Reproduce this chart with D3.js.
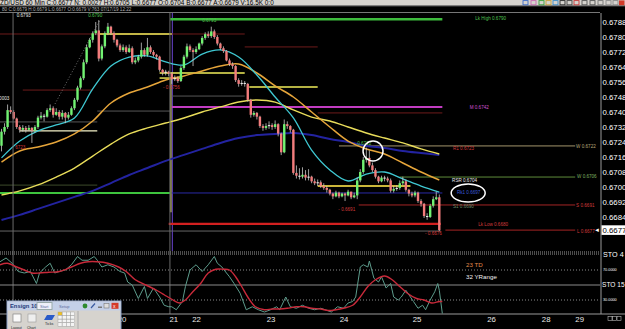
<!DOCTYPE html>
<html>
<head>
<meta charset="utf-8">
<title>NZD/USD 60 Min</title>
<script src="https://cdn.jsdelivr.net/npm/d3@7"></script>
<style>
  body { margin: 0; background: #000; overflow: hidden; }
  svg { display: block; font-family: "Liberation Sans", Arial, sans-serif; }
</style>
</head>
<body>
<svg id="chart" width="625" height="329"></svg>
<script>
// ---- data: prices are in pips (1 pip = 0.0001), x positions are bar numbers ----
const firstOpen = 6722;
const closes = [6729.5,6732,6741,6740,6736.5,6732,6730.5,6731.5,6730.5,6731.5,6730,6732,6737,6738,6737.5,6741,6742,6738.5,6740,6737.5,
  6739.5,6737,6738.5,6742,6746.5,6753,6758,6766.5,6774.5,6778.5,6782,6783.5,6768.5,6775,6782,6785.5,6782,6778.5,6775.5,6773,
  6774.5,6772,6774,6766.5,6767.5,6769.5,6773,6770.5,6774.5,6772,6770.5,6769.5,6762.5,6761,6761.5,6760.5,6757.5,6758,6756.5,6763.5,
  6769.5,6775,6773,6772,6773.5,6776.5,6779.5,6781.5,6780.5,6783,6780,6776.5,6774,6772.5,6767.5,6765.5,6764.5,6757,6755,6755.5,
  6755,6746.5,6738.5,6739.5,6737.5,6732.5,6731.5,6732.5,6733,6732,6733.5,6728.5,6718.5,6733.5,6732.5,6730.5,6707.5,6706,6705.5,6706.5,
  6705,6705.5,6703,6702,6702.5,6700.5,6699.5,6698.5,6696.5,6695,6697,6695,6696.5,6695.5,6697.5,6694.5,6695.5,6703.5,6708,6714.5,
  6715.5,6711.5,6709,6705.5,6703,6705,6704.5,6703.5,6698,6699,6699.5,6702,6703,6698.5,6696.5,6695.5,6697,6692.5,6691,6684.5,
  6684,6690,6693.5,6694.5,6677];
const highs = [6731,6734,6744,6743,6741,6737,6733,6733,6732.5,6733,6732,6733,6738,6740,6739,6742,6744,6743,6742,6741,
  6741,6740,6740,6743,6747.5,6754,6759,6768,6776,6779.5,6783,6788,6789,6776,6783,6787.5,6786,6783,6779,6776.5,
  6776,6775.5,6776,6775,6769,6770.5,6777,6774,6779.5,6775.5,6773,6771,6770,6763,6762.5,6762,6761,6759.5,6759,6764.5,
  6770.5,6776.5,6776,6774,6775,6777,6780.5,6782.5,6783,6785.5,6784,6781,6777,6775,6773,6768.5,6766.5,6765,6758,6757,
  6756.5,6755.5,6747,6740.5,6740,6738,6733.5,6734,6735,6734,6735.5,6734,6729,6736,6735,6733,6731,6711.5,6710,6710.5,
  6709,6709.5,6706,6704.5,6704,6703.5,6702,6700.5,6699,6697,6698,6697.5,6697,6697,6698.5,6697.5,6697,6705,6709.5,6716,
  6721,6719.5,6713,6710,6706,6706,6706,6705.5,6704.5,6700.5,6701,6703.5,6705.5,6704,6699,6697.5,6698,6697.5,6693.5,6691.5,
  6686,6691,6695,6697.5,6696];
const lows = [6719,6728,6731,6739,6736,6731,6729,6729.5,6729,6730,6723.5,6729,6731,6736,6735,6737,6740,6737,6738,6736,
  6736,6734,6736,6738,6741,6745.5,6752,6757,6765.5,6774,6777,6781,6767,6767.5,6774,6781,6781,6777,6774.5,6772,
  6772,6771,6771.5,6765.5,6765.5,6766.5,6768.5,6769.5,6769.5,6771,6769.5,6768,6761.5,6759.5,6759.5,6759,6755,6756.5,6755.5,6756,
  6762.5,6768.5,6772,6764.5,6771,6773,6775.5,6778.5,6779.5,6779.5,6779,6775.5,6773,6771.5,6767,6764.5,6763,6756,6753.5,6754,
  6753.5,6745.5,6737,6737.5,6736,6731.5,6730,6730.5,6731,6730.5,6731,6727,6717,6718,6731,6729,6706.5,6704.5,6704,6704.5,
  6703.5,6703.5,6702,6701,6700.5,6699.5,6698.5,6697,6695.5,6693.5,6694.5,6694,6694.5,6692.5,6695,6693.5,6694,6693.5,6702.5,6707,
  6713,6710.5,6708,6704.5,6702,6702.5,6703,6702.5,6697,6697,6698,6698.5,6701,6697.5,6695,6694.5,6694.5,6691.5,6689.5,6683.5,
  6682.5,6683.5,6689,6693,6676.5];

// moving averages read at every 6th bar
const maIdx  = [0,6,12,18,24,30,36,42,48,54,60,66,72,78,84,90,96,102,108,114,120,126,132,138,144];
const maFast = [6715.5,6724.5,6729.9,6733.1,6736.8,6752.3,6764.5,6769.3,6769.9,6766.7,6765.1,6770.9,6773.1,6769.3,6759.7,6748,6736.8,6719.7,6709.1,6703.2,6706.9,6708,6704.3,6700.5,6697.3];
const maMid  = [6713.3,6719.2,6721.3,6724,6728.3,6735.2,6744.8,6750.1,6753.3,6757.1,6759.2,6761.9,6764.5,6765.6,6760.8,6753.9,6748,6740,6732,6724.5,6720.3,6717.6,6712.8,6708,6703.7];
const maSlow = [6695.7,6697.9,6701.1,6705.3,6710.1,6716.5,6722.9,6728.3,6731.5,6734.1,6736.8,6740,6742.7,6745.3,6746.4,6745.3,6741.1,6737.3,6735.2,6732,6728.8,6726.1,6723.5,6720.3,6717.6];
const maLong = [6682.4,6685.1,6688.3,6691.5,6694.7,6697.9,6702.1,6706.4,6710.1,6713.9,6717.1,6720.3,6723.5,6726.1,6727.7,6728.3,6728.8,6727.7,6725.6,6724,6721.9,6720.8,6719.2,6718.1,6717.1];

// stochastic (STO 4 / STO 15)
const stoKIdx = [-0.5,1.5,3.5,5.5,7.5,9.5,11.5,12.5,14.5,16,17.5,19,21,23,25,26.5,28.5,30.5,31.5,33,35,37,39,40.5,41.5,43,45,47,48,50,
  52,53.5,55,56,57.5,59.5,60.5,62,64,66,68,70,71,72.5,74,75,76.5,78.5,80.5,82.5,84.5,86.5,88.5,90.5,91.5,93.5,95,97,99,101,
  103,105,106.5,108.5,110.5,112.5,114,115.5,116.5,118,119,120.5,121,122.5,124,125,126.5,128,129,130.5,131.5,133,134.5,135.5,137,138.5,139.5,141,142.5,143.5,
  144,145];
const stoK = [81,86,79,68,66,68,52,66,74,79,66,68,70,77,88,83,83,88,83,74,77,74,68,66,54,50,32,48,32,46,
  34,23,21,21,17,28,48,70,77,68,77,88,79,74,66,61,52,39,17,21,17,14,17,21,17,34,21,19,23,19,
  17,19,17,14,21,19,26,28,34,74,77,74,82,59,54,61,46,52,34,30,34,43,34,28,19,23,17,30,41,52,
  43,12];
const stoDIdx = [-0.5,2,5,7.5,10,12.5,15.5,19,23,26,28.5,31.5,35,38.5,41,44,47.5,51,53.5,56,58.5,60.5,62.5,65.5,68,70.5,73,75,77,79,
  81,83.5,86.5,89,91.5,94,97,99.5,102,105,107.5,110,112.5,115.5,118,120.5,123,126,128.5,131,133.5,136.5,139,141.5,144,145];
const stoD = [77,79,74,70,66,66,67,68,74,79,81,81,79,74,68,57,50,43,37,31,26,30,39,52,66,71,71,70,61,48,
  34,21,17,18,18,19,21,21,19,18,16,17,19,23,34,48,57,62,57,48,39,32,30,26,28,28];

// axes
const priceTicks = [6788,6780,6772,6764,6756,6748,6740,6732,6724,6716,6708,6700,6692,6684];
const lastPrice = 6677;
const dayIdx  = [39.5,56.5,64,88.5,112.5,136.5,161,179,190];
const dayText = ["20","21","22","23","24","25","26","28","29"];
const sessionIdx = [3.8, 55.4];

// drawn horizontal levels
const levelPrice = [6789.5,6781.6,6781.6,6774.7,6760.8,6758.1,6753.3,6751.7,6748.5,6742.7,6739.5,6740.5,6734.7,6729.9,6721.9,6705.3,6700.5,6701,6696.8,6696.8,6690.4,6680.3,6676.5,6677];
const levelFrom  = [55.5,-1,32.4,80,52,52,81.5,7,56,56,104,31.5,-1,6,111,131,104,-1,-1,56,117.5,55,-1,146];
const levelTo    = [145,80,56,104,80,59.5,104,30,80,145,145,55.5,31.5,31.5,188.7,188.7,134.5,31.5,55.5,145,188.7,144.5,144.5,188.7];
const levelKind  = ["lkhigh","darkred","yellow","darkred","yellow","yellow","yellow","darkred","gray","magenta","darkred","gray","gray","white","tan","olive","gold","dimolive","green","blue","red","redthick","pricegray","red"];

// small labels on the chart
const noteText  = ["0.6793","0.6790","0.6793","Lk High 0.6790","- 0.6756","0003","6723","M 0.6742","0.6722","R1 0.6723","W 0.6722",
  "RSR 0.6704","W 0.6706","Rk1 0.6697","S1 0.6690","S 0.6691","- 0.6691","Lk Low 0.6680","- 0.6676","L 0.6677"];
const noteIdx   = [5,28.5,66,155.8,53.1,-0.8,4.5,154,117,148.5,189,148.2,189.3,149.8,148.5,189,110.8,156.8,139.3,189.3];
const notePrice = [6791.7,6791.7,6788.9,6789.8,6753.3,6747.2,6721.1,6742.7,6723.5,6720.5,6721.9,6703.7,6705.9,6697.3,6689.9,6690.4,6688.3,6680,6675.5,6676.5];
const noteKind  = ["white","green","green","green","red","white","red","magenta","green","red","tan","white","olive","blue","dimgreen","red","red","red","red","red"];

// ---- styles ----
const levelStyle = {
  lkhigh:{c:"#3dbb3d",w:2.4}, darkred:{c:"#6e1b1b",w:1}, yellow:{c:"#f0ee5a",w:1.4}, gray:{c:"#585858",w:1},
  magenta:{c:"#c23cc2",w:2}, white:{c:"#f4f2c8",w:1.4}, tan:{c:"#a4966c",w:1}, olive:{c:"#5e8c3a",w:1},
  gold:{c:"#cbb63a",w:2}, dimolive:{c:"#3d4a2a",w:1}, green:{c:"#3ec43e",w:2}, blue:{c:"#2a2aa6",w:1},
  red:{c:"#a52424",w:1}, redthick:{c:"#d22020",w:2.4}, pricegray:{c:"#666",w:1}
};
const noteColor = {white:"#e8e8e8", green:"#4fc04f", red:"#d23a3a", magenta:"#d050d0", tan:"#b8a878",
  olive:"#7fb060", blue:"#3a5ad8", dimgreen:"#6a8a6a"};

const W = 625, H = 329;
const svg = d3.select("#chart");
svg.append("rect").attr("width", W).attr("height", H).attr("fill", "#000");

// scales
const x = d3.scaleLinear().domain([0, 144]).range([1.5, 439.3]);
const y = d3.scaleLinear().domain([6677, 6788]).range([230.1, 22]);
const ys = d3.scaleLinear().domain([0, 100]).range([322.5, 247.5]);

svg.append("clipPath").attr("id", "pclip").append("rect")
  .attr("x", 0).attr("y", 13).attr("width", 600).attr("height", 238);
svg.append("clipPath").attr("id", "sclip").append("rect")
  .attr("x", 0).attr("y", 255).attr("width", 600).attr("height", 59);

const pg = svg.append("g").attr("clip-path", "url(#pclip)");

// session separators
sessionIdx.forEach(d => {
  svg.append("line").attr("x1", x(d)).attr("x2", x(d)).attr("y1", 13).attr("y2", 314)
    .attr("stroke", "#6a6a6a").attr("stroke-width", 1);
});
pg.append("line").attr("x1", x(55.4)+1).attr("x2", x(55.4)+1).attr("y1", y(6758.5)).attr("y2", y(6686.5))
  .attr("stroke", "#8c8a3a").attr("stroke-width", 2);
pg.append("line").attr("x1", x(56.2)).attr("x2", x(56.2)).attr("y1", 13).attr("y2", 252)
  .attr("stroke", "#5a3ab0").attr("stroke-width", 1.2);

// levels
levelPrice.forEach((p, i) => {
  const s = levelStyle[levelKind[i]];
  pg.append("line")
    .attr("x1", x(levelFrom[i])).attr("x2", x(levelTo[i]))
    .attr("y1", y(p)).attr("y2", y(p))
    .attr("stroke", s.c).attr("stroke-width", s.w);
});

// dotted trend line
pg.append("line").attr("x1", x(17.6)).attr("y1", y(6744.3)).attr("x2", x(32.4)).attr("y2", y(6789.1))
  .attr("stroke", "#8a8a8a").attr("stroke-width", 0.8).attr("stroke-dasharray", "1,2");

// moving averages
const maLine = d3.line().x((d, i) => x(maIdx[i])).y(d => y(d)).curve(d3.curveCatmullRom);
[[maLong, "#2323a0", 2], [maSlow, "#e8dc5a", 1.4], [maMid, "#e6a53a", 1.5], [maFast, "#3fc8d2", 1.3]]
  .forEach(([arr, c, w]) => {
    pg.append("path").datum(arr).attr("d", maLine)
      .attr("fill", "none").attr("stroke", c).attr("stroke-width", w);
  });

// candles
const bars = closes.map((c, i) => ({i, o: i === 0 ? firstOpen : closes[i-1], c, h: highs[i], l: lows[i]}));
const cg = pg.append("g");
cg.selectAll("line.wick").data(bars).join("line")
  .attr("class", "wick")
  .attr("x1", d => x(d.i)).attr("x2", d => x(d.i))
  .attr("y1", d => y(d.h)).attr("y2", d => y(d.l))
  .attr("stroke", "#c8c8c8").attr("stroke-width", 0.8);
cg.selectAll("rect.body").data(bars).join("rect")
  .attr("class", "body")
  .attr("x", d => x(d.i) - 1.2).attr("width", 2.4)
  .attr("y", d => y(Math.max(d.o, d.c)))
  .attr("height", d => Math.max(1, Math.abs(y(d.o) - y(d.c))))
  .attr("fill", d => Math.abs(d.c - d.o) < 0.6 ? "#f0f0f0" : (d.c > d.o ? "#72f272" : "#f27c7c"));

// notes
pg.selectAll("text.note").data(noteText).join("text")
  .attr("class", "note")
  .attr("x", (d, i) => x(noteIdx[i])).attr("y", (d, i) => y(notePrice[i]))
  .attr("dy", "0.35em")
  .attr("font-size", 4.6)
  .attr("fill", (d, i) => noteColor[noteKind[i]])
  .text(d => d);

// highlight marks
pg.append("circle").attr("cx", x(122.2)).attr("cy", y(6719.2)).attr("r", 10)
  .attr("fill", "none").attr("stroke", "#fff").attr("stroke-width", 1.5);
pg.append("ellipse").attr("cx", x(153.5)).attr("cy", y(6696.8)).attr("rx", 17).attr("ry", 9)
  .attr("fill", "none").attr("stroke", "#fff").attr("stroke-width", 1.5);

// price axis
svg.append("line").attr("x1", 601).attr("x2", 601).attr("y1", 13).attr("y2", 314).attr("stroke", "#9a9a9a");
svg.append("line").attr("x1", 0).attr("x2", 600).attr("y1", 12.5).attr("y2", 12.5).attr("stroke", "#777");
const gy = svg.append("g").attr("transform", "translate(601,0)")
  .call(d3.axisRight(y).tickValues(priceTicks).tickSize(0).tickPadding(1.5).tickFormat(d => (d / 10000).toFixed(4)));
gy.select(".domain").remove();
gy.selectAll("text").attr("fill", "#fff").attr("font-size", 7.8).attr("font-family", "Liberation Sans, Arial, sans-serif");

svg.append("rect").attr("x", 601.5).attr("y", y(lastPrice) - 4.8).attr("width", 23.5).attr("height", 9.6).attr("fill", "#fff");
svg.append("text").attr("x", 602.5).attr("y", y(lastPrice)).attr("dy", "0.35em")
  .attr("font-size", 7.8).attr("fill", "#000").text((lastPrice / 10000).toFixed(4));
svg.append("text").attr("x", 594).attr("y", y(lastPrice)).attr("dy", "0.35em")
  .attr("font-size", 6).attr("fill", "#fff").text("◄");

// ---- stochastic panel ----
[252, 254].forEach(v => svg.append("line").attr("x1", 0).attr("x2", 600).attr("y1", v).attr("y2", v)
  .attr("stroke", "#9a9a9a").attr("stroke-dasharray", "1,1"));
[[70, "1,2", "#8a8a8a"], [50, null, "#8a8a8a"], [30, "1,2", "#8a8a8a"]].forEach(([v, dash, c]) => {
  svg.append("line").attr("x1", 0).attr("x2", 600).attr("y1", ys(v)).attr("y2", ys(v))
    .attr("stroke", c).attr("stroke-dasharray", dash);
});
svg.append("line").attr("x1", 0).attr("x2", 625).attr("y1", 314).attr("y2", 314).attr("stroke", "#9a9a9a");

const sg = svg.append("g").attr("clip-path", "url(#sclip)");
sg.append("path").datum(stoK)
  .attr("d", d3.line().x((d, i) => x(stoKIdx[i])).y(d => ys(d)))
  .attr("fill", "none").attr("stroke", "#5d9c8c").attr("stroke-width", 1);
sg.append("path").datum(stoD)
  .attr("d", d3.line().x((d, i) => x(stoDIdx[i])).y(d => ys(d)).curve(d3.curveCatmullRom))
  .attr("fill", "none").attr("stroke", "#c82a3a").attr("stroke-width", 1.4);

svg.append("text").attr("x", 466).attr("y", 265).attr("dy", "0.35em").attr("font-size", 6.2).attr("fill", "#e08a4a").text("23 TD");
svg.append("text").attr("x", 466).attr("y", 277).attr("dy", "0.35em").attr("font-size", 6.2).attr("fill", "#f0f0f0").text("32 YRange");

const stoLab = svg.append("g").attr("fill", "#fff");
stoLab.append("text").attr("x", 603).attr("y", 254).attr("dy", "0.35em").attr("font-size", 7.2).text("STO 4");
stoLab.append("text").attr("x", 603).attr("y", ys(70)).attr("dy", "0.35em").attr("font-size", 3.8).text("70.0000");
stoLab.append("text").attr("x", 602).attr("y", ys(50)).attr("dy", "0.35em").attr("font-size", 6.6).text("STO 15");
stoLab.append("text").attr("x", 603).attr("y", ys(30)).attr("dy", "0.35em").attr("font-size", 3.8).text("30.0000");

// day axis
const gx = svg.append("g").attr("transform", "translate(0,314)")
  .call(d3.axisBottom(x).tickValues(dayIdx).tickSize(0).tickPadding(2).tickFormat((d, i) => dayText[i]));
gx.select(".domain").remove();
gx.selectAll("text").attr("fill", "#e8e8e8").attr("font-size", 7.8).attr("font-family", "Liberation Sans, Arial, sans-serif");
[0, 1, 2].forEach(k => svg.append("rect").attr("x", 608 + k * 4.5).attr("y", 316.5).attr("width", 4).attr("height", 4)
  .attr("fill", "none").attr("stroke", "#bbb").attr("stroke-width", 0.6));

// ---- title bars ----
svg.append("rect").attr("width", W).attr("height", 5.5).attr("fill", "#d6d3ce");
svg.append("text").attr("x", 0).attr("y", 4.6).attr("font-size", 6.4).attr("fill", "#000")
  .text("ZD/USD 60 Min  C:0.6677  N:  0.0027  H:0.6705  L:0.6677  O:0.6704  B:0.6677  A:0.6679  V:16.5K  0:0");
svg.append("line").attr("x1", 0).attr("x2", W).attr("y1", 5.8).attr("y2", 5.8).attr("stroke", "#888");
svg.append("text").attr("x", 2).attr("y", 10.6).attr("font-size", 4.6).attr("fill", "#b0b0b0")
  .text("80 C:0.6679 H:0.6679 L:0.6677 O:0.6679 V:763 07/17/19 12:22");
const icons = [["#3a6ac8",523],["#c86ab0",531],["#3aa03a",539],["#c8a03a",546],["#3a8ac8",553],["#2a2a2a",560],
  ["#444",567],["#c83a3a",574],["#555",582],["#555",590],["#777",598],["#8a8a8a",606],["#888",613]];
icons.forEach(([c, px]) => svg.append("rect").attr("x", px).attr("y", 0.6).attr("width", 5).attr("height", 4.2)
  .attr("fill", "none").attr("stroke", c).attr("stroke-width", 0.9));
svg.append("rect").attr("x", 619).attr("y", 0.4).attr("width", 5.5).attr("height", 4.8).attr("fill", "#d43a2a");

// ---- Ensign toolbar window ----
const win = svg.append("g").attr("transform", "translate(7,301)");
win.append("rect").attr("width", 114).attr("height", 30).attr("fill", "#d6d3ce").attr("stroke", "#8aa0c8");
win.append("rect").attr("x", 0.5).attr("y", 0.5).attr("width", 113).attr("height", 9).attr("fill", "#c4d0e8");
win.append("text").attr("x", 3).attr("y", 7.2).attr("font-size", 5.8).attr("font-weight", "bold").attr("fill", "#23397a").text("Ensign 10");
win.append("rect").attr("x", 30).attr("y", 1.5).attr("width", 15).attr("height", 7).attr("fill", "#eef0fa").attr("stroke", "#9aa");
win.append("text").attr("x", 33).attr("y", 6.8).attr("font-size", 4).attr("fill", "#5a6aa0").text("Start");
win.append("text").attr("x", 52).attr("y", 6.8).attr("font-size", 4).attr("fill", "#5a6aa0").text("Setup");
win.append("circle").attr("cx", 78).attr("cy", 5).attr("r", 2.4).attr("fill", "#2e8a2e");
win.append("line").attr("x1", 84).attr("y1", 7).attr("x2", 88).attr("y2", 2.5).attr("stroke", "#3a5aa0").attr("stroke-width", 1.2);
win.append("rect").attr("x", 91).attr("y", 5.5).attr("width", 4).attr("height", 1.5).attr("fill", "#777");
win.append("rect").attr("x", 97).attr("y", 2.5).attr("width", 5).attr("height", 4.5).attr("fill", "#ddd").attr("stroke", "#777").attr("stroke-width", 0.6);
win.append("rect").attr("x", 104.5).attr("y", 1.8).attr("width", 7).attr("height", 6).attr("fill", "#d43a2a");
win.append("text").attr("x", 106).attr("y", 6.8).attr("font-size", 5).attr("fill", "#fff").text("x");
win.append("rect").attr("x", 6).attr("y", 13).attr("width", 8).attr("height", 8).attr("fill", "#fafafa").attr("stroke", "#777").attr("stroke-width", 0.6);
win.append("rect").attr("x", 21).attr("y", 13).attr("width", 8).attr("height", 8).attr("fill", "#eee").attr("stroke", "#999").attr("stroke-width", 0.6);
win.append("path").attr("d", "M37,19 L40,14 L48,14 L45,19 Z").attr("fill", "#2a5ac8");
win.append("text").attr("x", 4).attr("y", 27.5).attr("font-size", 3.6).attr("fill", "#222").text("Layout");
win.append("text").attr("x", 20).attr("y", 27.5).attr("font-size", 3.6).attr("fill", "#222").text("Chart");
win.append("text").attr("x", 38).attr("y", 24).attr("font-size", 3.6).attr("fill", "#222").text("Ticks");
const grid = win.append("g").attr("transform", "translate(51,11)");
d3.range(4).forEach(r => d3.range(4).forEach(cc => grid.append("rect")
  .attr("x", cc * 4.2).attr("y", r * 3.6).attr("width", 4).attr("height", 3.4)
  .attr("fill", r === 0 && cc === 0 ? "#f0c020" : "#f4f4f4").attr("stroke", "#999").attr("stroke-width", 0.4)));
win.append("line").attr("x1", 71).attr("x2", 71).attr("y1", 10).attr("y2", 30).attr("stroke", "#aaa");
</script>
</body>
</html>
